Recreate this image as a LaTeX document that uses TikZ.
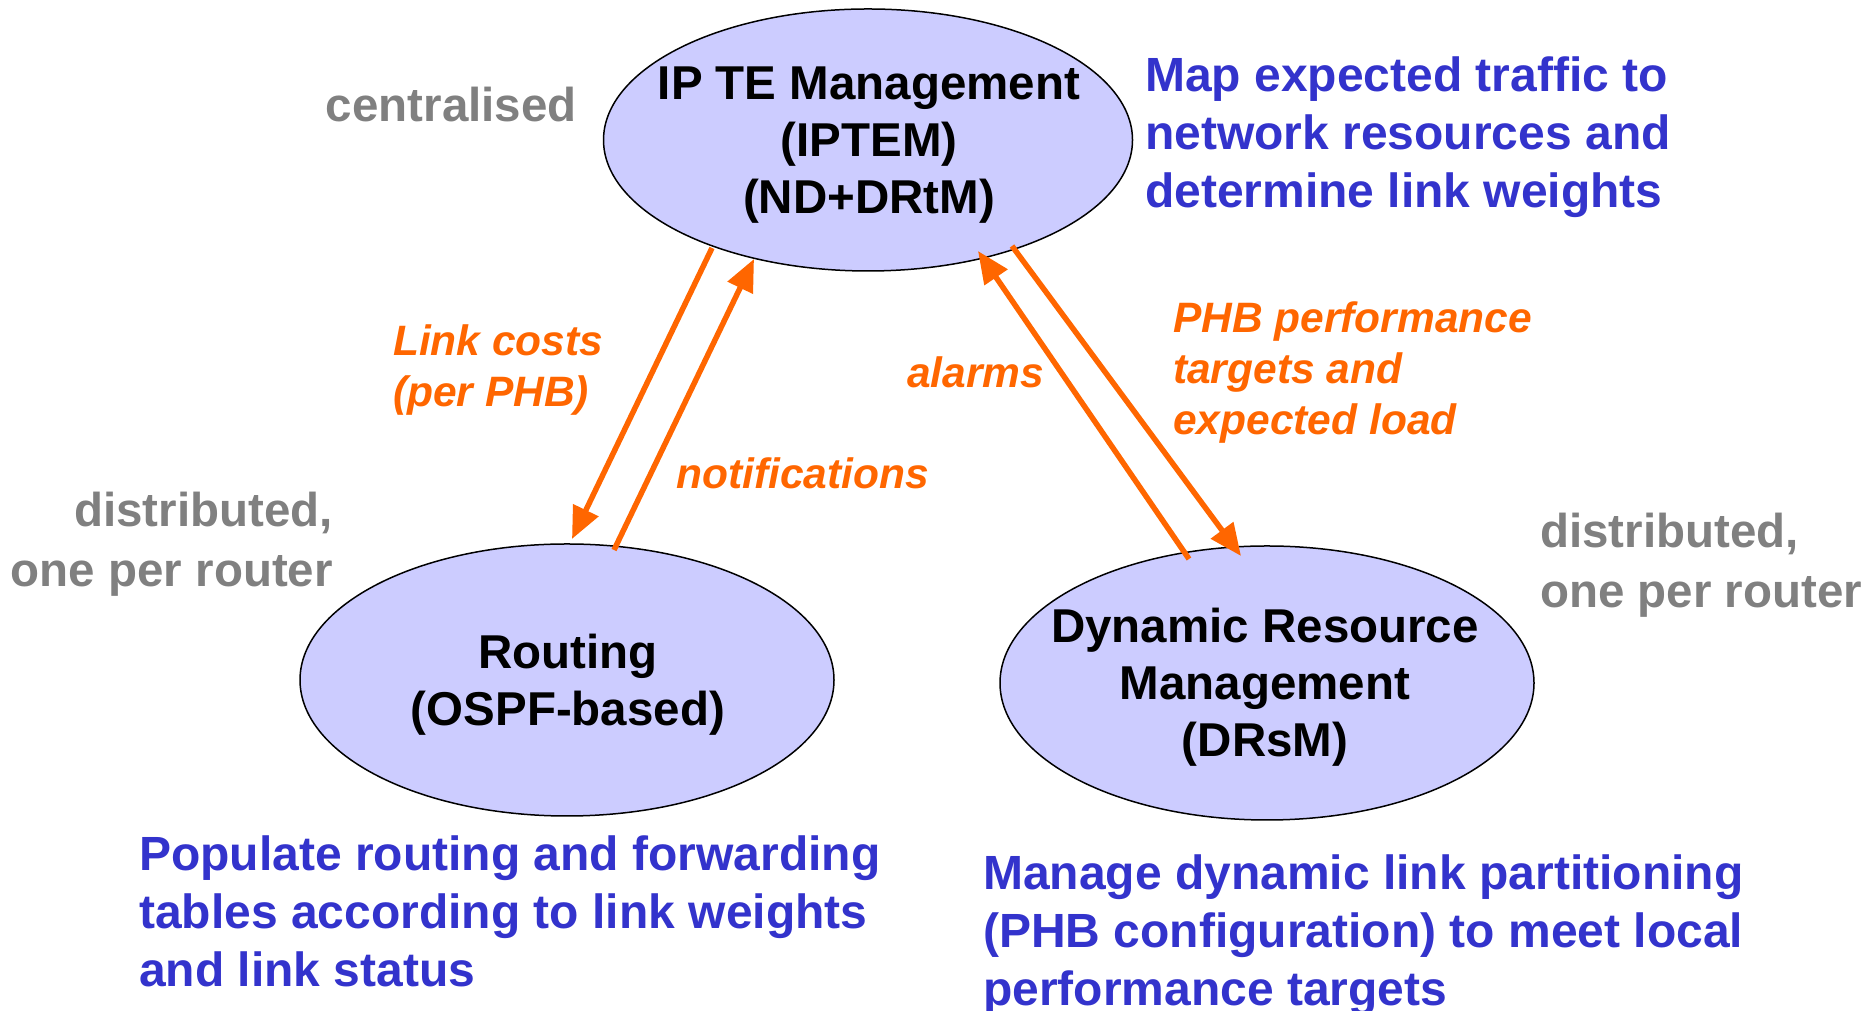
\documentclass[tikz,border=0pt]{standalone}
\usepackage{fontspec}
\setmainfont{Liberation Sans}
\usetikzlibrary{shapes.geometric,arrows.meta,calc}

\definecolor{tefill}{HTML}{CCCCFF}
\definecolor{teorange}{HTML}{FF6600}
\definecolor{teblue}{HTML}{3333CC}
\definecolor{tegray}{HTML}{808080}

\tikzset{
  module/.style={ellipse, draw=black, line width=1.5pt, fill=tefill, inner sep=0pt},
  modlabel/.style={inner sep=0pt, align=center, text=black,
    font=\fontsize{47.5}{57}\selectfont\bfseries},
  role/.style={inner sep=0pt, text=teblue,
    font=\fontsize{48}{58}\selectfont\bfseries},
  scope note/.style={inner sep=0pt, text=tegray,
    font=\fontsize{47.5}{60}\selectfont\bfseries},
  msg/.style={inner sep=0pt, text=teorange,
    font=\fontsize{42.5}{51}\selectfont\bfseries\itshape},
  flow/.style={draw=teorange, line width=5.5pt,
    -{Triangle[length=32pt,width=27pt]}},
}

\begin{document}
\begin{tikzpicture}[x=1pt,y=1pt]
\useasboundingbox (0,0) rectangle (1866,1011);

% the three management modules
\node[module, minimum width=529pt, minimum height=262pt] (iptem) at (868,871) {};
\node[module, minimum width=534pt, minimum height=272pt] (routing) at (567,331) {};
\node[module, minimum width=534pt, minimum height=274pt] (drsm) at (1267,328) {};

\node[modlabel] (iptemlbl) at (869,866) {IP TE Management\\(IPTEM)\\(ND+DRtM)};
\node[modlabel] (routinglbl) at (568,326) {Routing\\(OSPF-based)};
\node[modlabel] (drsmlbl) at (1265,324) {Dynamic Resource\\Management\\(DRsM)};

% where each module runs
\node[scope note, anchor=base east] (central) at (577,889) {centralised};
\node[scope note, anchor=north east, align=right] (distleft) at (333,519)
  {distributed,\\one per router};
\node[scope note, anchor=north west, align=left] (distright) at (1540,498)
  {distributed,\\one per router};

% what each module does
\node[role, anchor=north west, align=left] (iptemrole) at (1145,954)
  {Map expected traffic to\\network resources and\\determine link weights};
\node[role, anchor=north west, align=left] (routingrole) at (139,175)
  {Populate routing and forwarding\\tables according to link weights\\and link status};
\node[role, anchor=north west, align=left] (drsmrole) at (983,156)
  {Manage dynamic link partitioning\\(PHB configuration) to meet local\\performance targets};

% information flows between modules
\draw[flow] ($(iptem.center)+(-156,-108)$) -- ($(routing.center)+(5,141)$);
\draw[flow] ($(routing.center)+(47,130)$) -- ($(iptem.center)+(-114,-119)$);
\draw[flow] ($(drsm.center)+(-78,124)$) -- ($(iptem.center)+(110,-111)$);
\draw[flow] ($(iptem.center)+(144,-106)$) -- ($(drsm.center)+(-26,127)$);

\node[msg, anchor=north west, align=left] (linkcosts) at (393,686)
  {Link costs\\(per PHB)};
\node[msg, anchor=base west] (notif) at (676,522) {notifications};
\node[msg, anchor=base west] (alarms) at (907,623) {alarms};
\node[msg, anchor=north west, align=left] (phbtargets) at (1173,709)
  {PHB performance\\targets and\\expected load};
\end{tikzpicture}
\end{document}
